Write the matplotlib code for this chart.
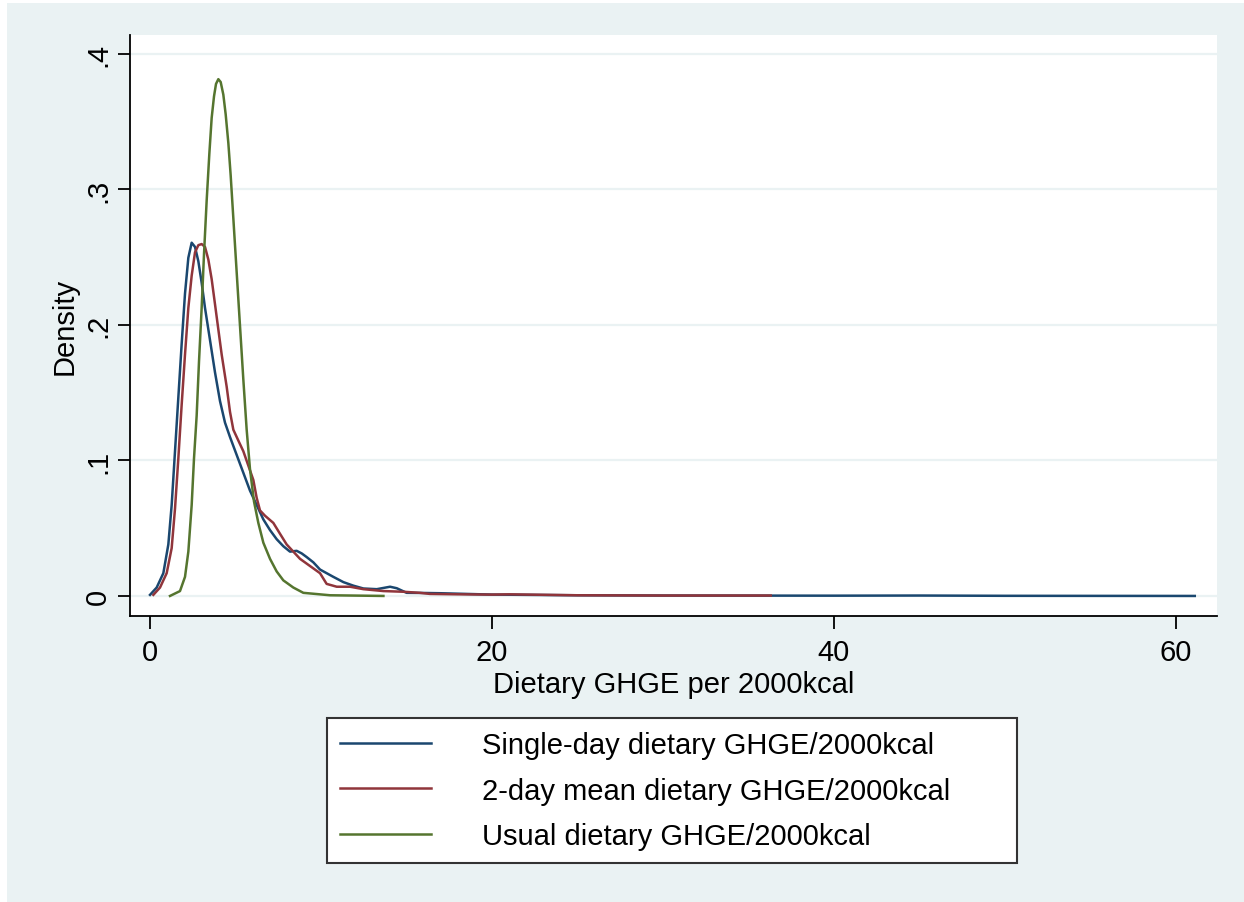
import matplotlib
matplotlib.use("Agg")
import matplotlib.pyplot as plt
from matplotlib.patches import Rectangle

plt.rcParams['font.family'] = ['Liberation Sans', 'DejaVu Sans']

# Single-day dietary GHGE/2000kcal
x_single = [0.0, 0.39, 0.78, 1.072, 1.267, 1.462, 1.657, 1.852, 2.047, 2.242, 2.437, 2.632,
            2.827, 3.021, 3.216, 3.509, 3.801, 4.094, 4.386, 4.678, 5.068, 5.458, 5.848,
            6.238, 6.628, 7.018, 7.407, 7.797, 8.187, 8.577, 8.870, 9.162, 9.552, 9.942,
            10.33, 10.72, 11.31, 11.89, 12.48, 13.26, 14.04, 14.43, 15.01, 16.0, 17.0,
            18.5, 20.0, 25.0, 30.0, 40.0, 45.0, 50.0, 61.1]
y_single = [0.0008, 0.0062, 0.0168, 0.038, 0.0671, 0.1068, 0.1465, 0.1861, 0.2232, 0.2496,
            0.2607, 0.2576, 0.2470, 0.2311, 0.2126, 0.1888, 0.1650, 0.1438, 0.1279, 0.1173,
            0.1041, 0.0909, 0.0777, 0.0671, 0.0565, 0.0486, 0.0419, 0.0367, 0.0327, 0.0333,
            0.0314, 0.0287, 0.0248, 0.0195, 0.0168, 0.0141, 0.0102, 0.0076, 0.0055, 0.0050,
            0.0068, 0.0057, 0.0023, 0.0022, 0.0020, 0.0015, 0.0010, 0.0005, 0.0003, 0.0002,
            0.0003, 0.0001, 0.0]

# 2-day mean dietary GHGE/2000kcal
x_two = [0.195, 0.585, 0.975, 1.267, 1.462, 1.657, 1.852, 2.047, 2.242, 2.437, 2.632, 2.827,
         3.021, 3.216, 3.411, 3.606, 3.801, 3.996, 4.191, 4.484, 4.678, 4.873, 5.165, 5.458,
         5.750, 6.043, 6.238, 6.433, 6.725, 7.212, 7.602, 7.992, 8.382, 8.772, 9.357, 9.942,
         10.33, 10.92, 11.70, 12.48, 13.65, 14.81, 15.79, 16.37, 18.0, 20.0, 21.0, 25.0,
         30.0, 36.3]
y_two = [0.0008, 0.0062, 0.0168, 0.0353, 0.0644, 0.1015, 0.1412, 0.1782, 0.2126, 0.2364,
         0.2536, 0.2589, 0.2597, 0.2576, 0.2483, 0.2338, 0.2153, 0.1967, 0.1782, 0.1544,
         0.1359, 0.1227, 0.1147, 0.1068, 0.0962, 0.0856, 0.0724, 0.0631, 0.0592, 0.0539,
         0.0459, 0.0380, 0.0327, 0.0274, 0.0221, 0.0168, 0.0089, 0.0068, 0.0068, 0.0050,
         0.0036, 0.0031, 0.0023, 0.0015, 0.0012, 0.0010, 0.0012, 0.0005, 0.0003, 0.0003]

# Usual dietary GHGE/2000kcal
x_usual = [1.17, 1.754, 2.047, 2.242, 2.437, 2.573, 2.729, 2.865, 3.021, 3.158, 3.314, 3.470,
           3.606, 3.743, 3.860, 3.996, 4.133, 4.288, 4.425, 4.581, 4.717, 4.873, 5.068,
           5.263, 5.458, 5.653, 5.848, 6.082, 6.335, 6.628, 7.018, 7.407, 7.797, 8.382,
           8.967, 10.53, 13.65]
y_usual = [0.0, 0.0036, 0.0141, 0.0327, 0.0671, 0.1015, 0.1332, 0.1729, 0.2126, 0.2523,
           0.2919, 0.3264, 0.3528, 0.3687, 0.3779, 0.3814, 0.3793, 0.3700, 0.3555, 0.3343,
           0.3105, 0.2788, 0.2390, 0.1993, 0.1597, 0.1227, 0.0935, 0.0697, 0.0539, 0.0393,
           0.0274, 0.0181, 0.0115, 0.0062, 0.0023, 0.0005, 0.0]

labels = ["Single-day dietary GHGE/2000kcal",
          "2-day mean dietary GHGE/2000kcal",
          "Usual dietary GHGE/2000kcal"]
colors = ["#1a476f", "#90353b", "#55752f"]
xticks = [0, 20, 40, 60]
yticks = [0, 0.1, 0.2, 0.3, 0.4]
yticklabels = ["0", ".1", ".2", ".3", ".4"]

W, H = 1244, 903
bg = "#eaf2f3"
FS = 21
fig = plt.figure(figsize=(W / 100, H / 100), dpi=100, facecolor="white")
fig.patches.append(Rectangle((7 / W, 0), 1 - 7 / W, 1 - 4 / H, transform=fig.transFigure,
                             facecolor=bg, edgecolor="none", zorder=-10))

ax = fig.add_axes([130 / W, 1 - 617 / H, (1217 - 130) / W, (617 - 36) / H])
ax.set_facecolor("white")

for xs, ys, c, lab in zip([x_single, x_two, x_usual], [y_single, y_two, y_usual], colors, labels):
    ax.plot(xs, ys, color=c, lw=1.8, label=lab, solid_joinstyle="round")

ax.set_xlim(-1.17, 62.4)
ax.set_ylim(-0.0148, 0.414)
ax.set_xticks(xticks)
ax.set_yticks(yticks)
ax.set_yticklabels(yticklabels)
for s in ["top", "right"]:
    ax.spines[s].set_visible(False)
for s in ["left", "bottom"]:
    ax.spines[s].set_color("black")
    ax.spines[s].set_linewidth(1.3)
ax.grid(axis="y", color=bg, lw=1.6)
ax.set_axisbelow(True)
ax.tick_params(axis="both", direction="out", length=9, width=1.3, color="black",
               labelsize=FS)
ax.tick_params(axis="x", pad=7)
ax.tick_params(axis="y", labelrotation=90, pad=4)
for t in ax.get_yticklabels():
    t.set_va("center")
ax.set_xlabel("Dietary GHGE per 2000kcal", fontsize=FS, labelpad=3)
ax.set_ylabel("Density", fontsize=FS, labelpad=4)

leg = fig.legend(loc="upper left", bbox_to_anchor=(327 / W, 1 - 719 / H, (1017 - 327) / W, 0.0),
                 mode="expand", fontsize=FS, frameon=True, fancybox=False, borderaxespad=0,
                 handlelength=3.1, handletextpad=1.75, labelspacing=0.6, borderpad=0.45)
fr = leg.get_frame()
fr.set_edgecolor("#333333")
fr.set_linewidth(1.5)
fr.set_facecolor("white")
fr.set_alpha(1)

fig.savefig("out.png", dpi=100, facecolor=fig.get_facecolor())
